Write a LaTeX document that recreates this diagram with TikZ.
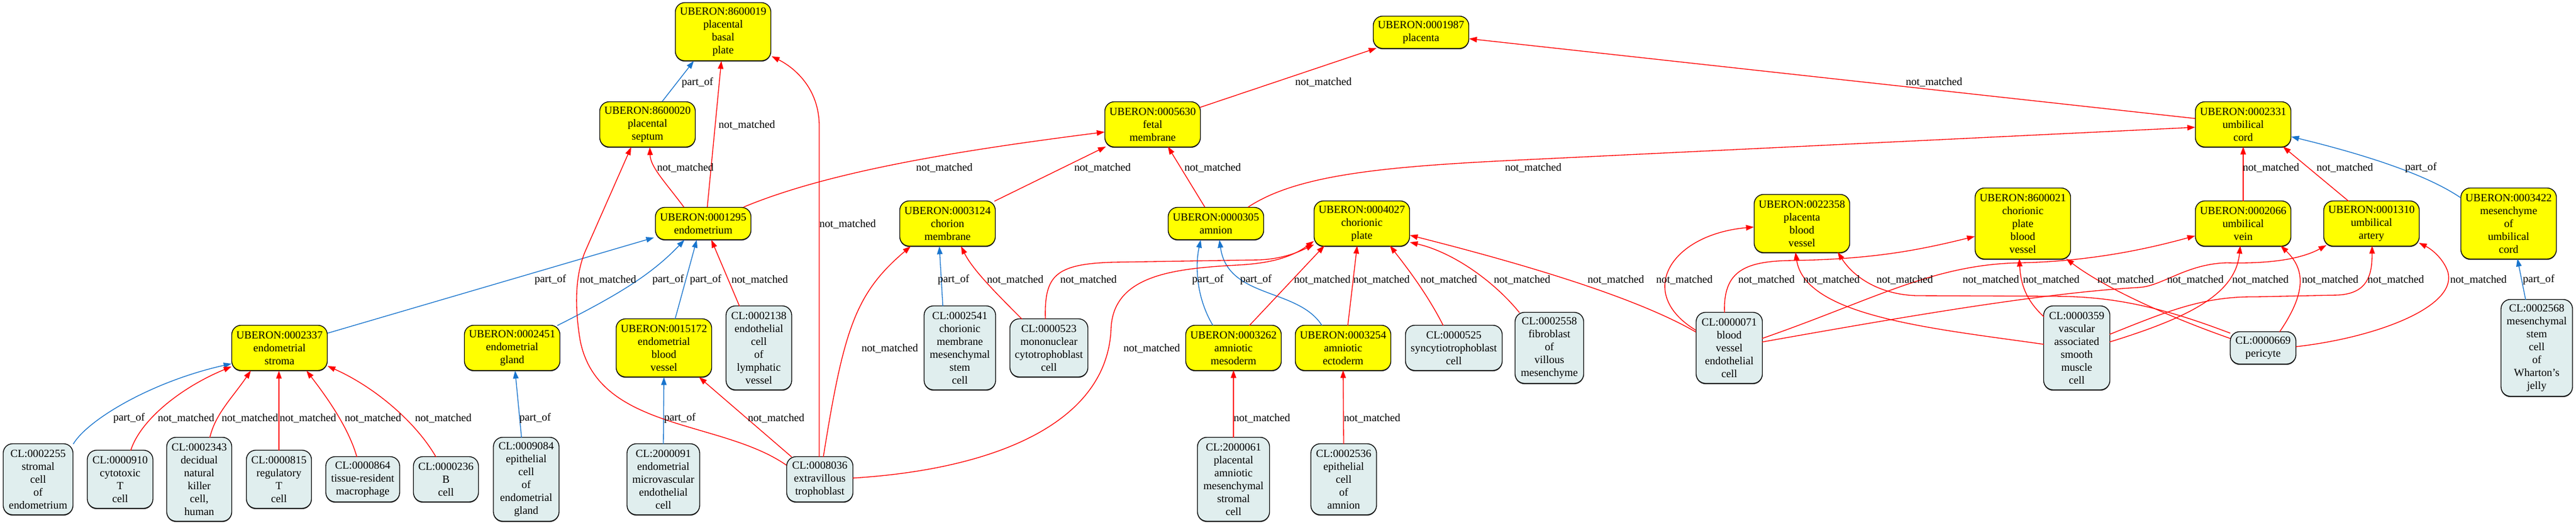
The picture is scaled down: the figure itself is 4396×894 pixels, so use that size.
\documentclass[tikz,border=0pt]{standalone}
\usepackage{fontspec}
\setmainfont{Liberation Serif}
\usetikzlibrary{calc,arrows.meta,shadows}
\definecolor{ured}{RGB}{255,0,0}
\definecolor{ublue}{RGB}{24,116,205}
\definecolor{uyel}{RGB}{255,255,0}
\definecolor{ucl}{RGB}{224,238,238}
\tikzset{
 base/.style={draw=black, line width=1pt, rounded corners=12pt, align=center, inner sep=0pt,
   font=\fontsize{14pt}{16.5pt}\selectfont, general shadow={fill=black!65, shadow yshift=-1.2pt}},
 unode/.style={base, fill=uyel, minimum width=122.25pt},
 cnode/.style={base, fill=ucl},
 htwo/.style={minimum height=41.25pt},
 hthree/.style={minimum height=57.75pt},
 hfour/.style={minimum height=74.25pt},
 hfive/.style={minimum height=90.75pt},
 hsix/.style={minimum height=107.25pt},
 hseven/.style={minimum height=123.75pt},
 redge/.style={draw=ured, line width=1pt, -{Triangle[length=10pt,width=7pt]}},
 bedge/.style={draw=ublue, line width=1pt, -{Triangle[length=10pt,width=7pt]}},
 lbl/.style={anchor=west, inner sep=0pt, font=\fontsize{14pt}{16.5pt}\selectfont}
}
\begin{document}
\begin{tikzpicture}[x=0.75pt,y=-0.75pt]
\useasboundingbox (0,0) rectangle (4396,894);
% ---------- UBERON nodes ----------
\node[unode, hfour] (u8600019) at (1234,54) {UBERON:8600019\\placental\\basal\\plate};
\node[unode, hthree] (u8600020) at (1105,212) {UBERON:8600020\\placental\\septum};
\node[unode, htwo] (u1295) at (1200,381) {UBERON:0001295\\endometrium};
\node[unode, hthree] (u3124) at (1617,381) {UBERON:0003124\\chorion\\membrane};
\node[unode, hthree] (u5630) at (1967,212) {UBERON:0005630\\fetal\\membrane};
\node[unode, htwo] (u0305) at (2075,381) {UBERON:0000305\\amnion};
\node[unode, htwo] (u1987) at (2425,55) {UBERON:0001987\\placenta};
\node[unode, hthree] (u4027) at (2324,381) {UBERON:0004027\\chorionic\\plate};
\node[unode, hfour] (u2358) at (3075,381) {UBERON:0022358\\placenta\\blood\\vessel};
\node[unode, hfive] (u8600021) at (3452,381) {UBERON:8600021\\chorionic\\plate\\blood\\vessel};
\node[unode, hthree] (u2331) at (3828,212) {UBERON:0002331\\umbilical\\cord};
\node[unode, hthree] (u2066) at (3828,381) {UBERON:0002066\\umbilical\\vein};
\node[unode, hthree] (u1310) at (4047,381) {UBERON:0001310\\umbilical\\artery};
\node[unode, hfive] (u3422) at (4281,381) {UBERON:0003422\\mesenchyme\\of\\umbilical\\cord};
\node[unode, hthree] (u2337) at (477,593) {UBERON:0002337\\endometrial\\stroma};
\node[unode, hthree] (u2451) at (874,593) {UBERON:0002451\\endometrial\\gland};
\node[unode, hfour] (u15172) at (1133,593) {UBERON:0015172\\endometrial\\blood\\vessel};
\node[unode, hthree] (u3262) at (2105,593) {UBERON:0003262\\amniotic\\mesoderm};
\node[unode, hthree] (u3254) at (2292,593) {UBERON:0003254\\amniotic\\ectoderm};
% ---------- CL nodes ----------
\node[cnode, hsix, minimum width=84pt] (c2138) at (1295,593) {CL:0002138\\endothelial\\cell\\of\\lymphatic\\vessel};
\node[cnode, hsix, minimum width=91.5pt] (c2541) at (1638,593) {CL:0002541\\chorionic\\membrane\\mesenchymal\\stem\\cell};
\node[cnode, hfour, minimum width=99.75pt] (c0523) at (1790,593) {CL:0000523\\mononuclear\\cytotrophoblast\\cell};
\node[cnode, hthree, minimum width=123.75pt] (c0525) at (2481,593) {CL:0000525\\syncytiotrophoblast\\cell};
\node[cnode, hfive, minimum width=87.75pt] (c2558) at (2644,593) {CL:0002558\\fibroblast\\of\\villous\\mesenchyme};
\node[cnode, hfive, minimum width=84.75pt] (c0071) at (2951,593) {CL:0000071\\blood\\vessel\\endothelial\\cell};
\node[cnode, hsix, minimum width=84.75pt] (c0359) at (3544,593) {CL:0000359\\vascular\\associated\\smooth\\muscle\\cell};
\node[cnode, htwo, minimum width=84pt] (c0669) at (3862,593) {CL:0000669\\pericyte};
\node[cnode, hseven, minimum width=91.5pt] (c2568) at (4329,593) {CL:0002568\\mesenchymal\\stem\\cell\\of\\Wharton's\\jelly};
\node[cnode, hfive, minimum width=89.25pt] (c2255) at (65,817) {CL:0002255\\stromal\\cell\\of\\endometrium};
\node[cnode, hfour, minimum width=84pt] (c0910) at (205,817) {CL:0000910\\cytotoxic\\T\\cell};
\node[cnode, hsix, minimum width=83.25pt] (c2343) at (340,817) {CL:0002343\\decidual\\natural\\killer\\cell,\\human};
\node[cnode, hfour, minimum width=83.25pt] (c0815) at (476,817) {CL:0000815\\regulatory\\T\\cell};
\node[cnode, hthree, minimum width=94.5pt] (c0864) at (619,817) {CL:0000864\\tissue-resident\\macrophage};
\node[cnode, hthree, minimum width=83.25pt] (c0236) at (761,817) {CL:0000236\\B\\cell};
\node[cnode, hsix, minimum width=84pt] (c9084) at (898,817) {CL:0009084\\epithelial\\cell\\of\\endometrial\\gland};
\node[cnode, hfive, minimum width=93pt] (c2000091) at (1132,817) {CL:2000091\\endometrial\\microvascular\\endothelial\\cell};
\node[cnode, hthree, minimum width=84.75pt] (c8036) at (1399,817) {CL:0008036\\extravillous\\trophoblast};
\node[cnode, hsix, minimum width=92.25pt] (c2000061) at (2105,817) {CL:2000061\\placental\\amniotic\\mesenchymal\\stromal\\cell};
\node[cnode, hfive, minimum width=84pt] (c2536) at (2293,817) {CL:0002536\\epithelial\\cell\\of\\amnion};
% ---------- part_of edges ----------
\draw[bedge] ($(u8600020)+(25,-39)$) -- ($(u8600019)+(-50,50)$);
\draw[bedge] ($(u2337)+(82,-25)$) -- ($(u1295)+(-84,24)$);
\draw[bedge] ($(u2451)+(77,-38)$) .. controls (1050,505) and (1110,470) .. ($(u1295)+(-32,28)$);
\draw[bedge] ($(u15172)+(19,-49)$) -- ($(u1295)+(-11,28)$);
\draw[bedge] ($(c2255)+(60,-60)$) .. controls (150,715) and (260,650) .. ($(u2337)+(-82,27)$);
\draw[bedge] ($(c9084)+(-8,-71)$) -- ($(u2451)+(5,39)$);
\draw[bedge] ($(c2000091)+(0,-60)$) -- ($(u15172)+(0,50)$);
\draw[bedge] ($(c2541)+(-29,-71)$) -- ($(u3124)+(-14,39)$);
\draw[bedge] ($(u3262)+(-35,-38)$) .. controls (2040,505) and (2040,450) .. ($(u0305)+(-26,28)$);
\draw[bedge] ($(u3254)+(-36,-38)$) .. controls (2215,490) and (2095,510) .. ($(u0305)+(6,28)$);
\draw[bedge] ($(u3422)+(-82,-44)$) .. controls (4130,290) and (4000,255) .. ($(u2331)+(82,21)$);
\draw[bedge] ($(c2568)+(-19,-82)$) -- ($(u3422)+(15,60)$);
% ---------- not_matched edges ----------
\draw[redge] ($(u1295)+(-33,-28)$) .. controls (1135,310) and (1110,285) .. ($(u8600020)+(4,39)$);
\draw[redge] ($(u1295)+(7,-28)$) -- ($(u8600019)+(-3,50)$);
\draw[redge] ($(c8036)+(-1,-38)$) -- (1398,215) .. controls (1398,150) and (1355,115) .. ($(u8600019)+(83,42)$);
\draw[redge] ($(c8036)+(-57,-24)$) .. controls (1230,715) and (1020,735) .. (990,580) .. controls (980,520) and (982,470) .. (998,430) -- ($(u8600020)+(-28,39)$);
\draw[redge] ($(u1295)+(69,-28)$) .. controls (1420,290) and (1650,255) .. ($(u5630)+(-82,13)$);
\draw[redge] ($(u3124)+(80,-38)$) -- ($(u5630)+(-80,38)$);
\draw[redge] ($(u0305)+(-19,-28)$) -- ($(u5630)+(26,38)$);
\draw[redge] ($(u5630)+(81,-29)$) -- ($(u1987)+(-76,27)$);
\draw[redge] ($(u2331)+(-82,-10)$) -- ($(u1987)+(82,11)$);
\draw[redge] ($(u0305)+(55,-28)$) .. controls (2210,300) and (2350,285) .. (2568,274) -- ($(u2331)+(-82,5)$);
\draw[redge] ($(u2066)+(0,-38)$) -- ($(u2331)+(0,38)$);
\draw[redge] ($(u1310)+(-39,-38)$) -- ($(u2331)+(68,38)$);
\draw[redge] ($(c2138)+(-33,-71)$) -- ($(u1295)+(14,28)$);
\draw[redge] ($(c0910)+(18,-49)$) .. controls (240,715) and (310,660) .. ($(u2337)+(-82,32)$);
\draw[redge] ($(c2343)+(18,-71)$) .. controls (368,705) and (395,680) .. ($(u2337)+(-49,39)$);
\draw[redge] ($(c0815)+(0,-49)$) -- ($(u2337)+(-1,39)$);
\draw[redge] ($(c0864)+(-10,-38)$) .. controls (595,730) and (560,680) .. ($(u2337)+(46,39)$);
\draw[redge] ($(c0236)+(-17,-38)$) .. controls (710,720) and (640,660) .. ($(u2337)+(82,31)$);
\draw[redge] ($(c8036)+(-48,-38)$) -- ($(u15172)+(60,50)$);
\draw[redge] ($(c8036)+(6,-38)$) .. controls (1440,560) and (1460,500) .. ($(u3124)+(-63,39)$);
\draw[redge] ($(c0523)+(-46,-49)$) .. controls (1700,500) and (1660,460) .. ($(u3124)+(23,39)$);
\draw[redge] ($(c0523)+(-6,-49)$) .. controls (1782,470) and (1800,450) .. (1900,447) -- (2150,443) .. controls (2190,441) and (2215,430) .. ($(u4027)+(-82,36)$);
\draw[redge] ($(c8036)+(56,-2)$) .. controls (1700,800) and (1890,720) .. (1896,560) .. controls (1900,470) and (2000,458) .. (2110,452) .. controls (2170,449) and (2205,438) .. ($(u4027)+(-82,30)$);
\draw[redge] ($(u3262)+(27,-38)$) -- ($(u4027)+(-64,38)$);
\draw[redge] ($(u3254)+(8,-38)$) -- ($(u4027)+(-8,38)$);
\draw[redge] ($(c0525)+(-18,-38)$) .. controls (2435,500) and (2400,455) .. ($(u4027)+(48,38)$);
\draw[redge] ($(c2558)+(-51,-60)$) .. controls (2550,480) and (2480,430) .. ($(u4027)+(82,32)$);
\draw[redge] ($(c0071)+(-57,-27)$) .. controls (2780,500) and (2560,440) .. ($(u4027)+(82,20)$);
\draw[redge] ($(c0071)+(-57,-30)$) .. controls (2790,500) and (2850,400) .. ($(u2358)+(-82,6)$);
\draw[redge] ($(c0071)+(-8,-60)$) .. controls (2940,460) and (2980,445) .. (3060,444) .. controls (3200,442) and (3280,425) .. ($(u8600021)+(-82,22)$);
\draw[redge] ($(c0071)+(56,-16)$) .. controls (3200,510) and (3300,450) .. (3450,448) .. controls (3580,445) and (3680,420) .. ($(u2066)+(-82,21)$);
\draw[redge] ($(c0071)+(56,-10)$) .. controls (3250,540) and (3480,500) .. (3650,490) .. controls (3690,488) and (3730,450) .. (3800,448) .. controls (3880,450) and (3930,440) .. ($(u1310)+(-77,37)$);
\draw[redge] ($(c0359)+(-56,-6)$) .. controls (3300,560) and (3080,540) .. ($(u2358)+(-11,49)$);
\draw[redge] ($(c0669)+(-56,-25)$) .. controls (3680,520) and (3600,505) .. (3500,505) -- (3270,504) .. controls (3210,502) and (3165,475) .. ($(u2358)+(61,49)$);
\draw[redge] ($(c0359)+(-56,-53)$) .. controls (3455,510) and (3448,480) .. ($(u8600021)+(-6,60)$);
\draw[redge] ($(c0669)+(-56,-16)$) .. controls (3700,540) and (3590,490) .. ($(u8600021)+(74,60)$);
\draw[redge] ($(c0359)+(56,-10)$) .. controls (3740,540) and (3815,500) .. ($(u2066)+(-5,38)$);
\draw[redge] ($(c0359)+(56,-23)$) .. controls (3700,530) and (3760,505) .. (3850,506) -- (3990,503) .. controls (4040,500) and (4048,470) .. ($(u1310)+(1,38)$);
\draw[redge] ($(c0669)+(28,-27)$) .. controls (3935,500) and (3935,460) .. ($(u2066)+(64,38)$);
\draw[redge] ($(c0669)+(56,-2)$) .. controls (4060,575) and (4200,520) .. (4176,460) .. controls (4168,440) and (4150,425) .. ($(u1310)+(81,33)$);
\draw[redge] ($(c2000061)+(0,-71)$) -- ($(u3262)+(0,38)$);
\draw[redge] ($(c2536)+(0,-60)$) -- ($(u3254)+(0,38)$);
% ---------- labels ----------
\node[lbl] (l01) at (1163,141) {part\_of};
\node[lbl] (l02) at (912,477) {part\_of};
\node[lbl] (l03) at (1113,477) {part\_of};
\node[lbl] (l04) at (1177,477) {part\_of};
\node[lbl] (l05) at (193,713) {part\_of};
\node[lbl] (l06) at (886,713) {part\_of};
\node[lbl] (l07) at (1133,713) {part\_of};
\node[lbl] (l08) at (1600,477) {part\_of};
\node[lbl] (l09) at (2034,477) {part\_of};
\node[lbl] (l10) at (2116,477) {part\_of};
\node[lbl] (l11) at (4104,286) {part\_of};
\node[lbl] (l12) at (4305,477) {part\_of};
\node[lbl] (l13) at (1121,286) {not\_matched};
\node[lbl] (l14) at (1226,213) {not\_matched};
\node[lbl] (l15) at (1398,382) {not\_matched};
\node[lbl] (l16) at (989,477) {not\_matched};
\node[lbl] (l17) at (1563,286) {not\_matched};
\node[lbl] (l18) at (1833,286) {not\_matched};
\node[lbl] (l19) at (2021,286) {not\_matched};
\node[lbl] (l20) at (2210,140) {not\_matched};
\node[lbl] (l21) at (3252,140) {not\_matched};
\node[lbl] (l22) at (2568,286) {not\_matched};
\node[lbl] (l23) at (3827,286) {not\_matched};
\node[lbl] (l24) at (3953,286) {not\_matched};
\node[lbl] (l25) at (1248,477) {not\_matched};
\node[lbl] (l26) at (269,713) {not\_matched};
\node[lbl] (l27) at (378,713) {not\_matched};
\node[lbl] (l28) at (477,713) {not\_matched};
\node[lbl] (l29) at (588,713) {not\_matched};
\node[lbl] (l30) at (708,713) {not\_matched};
\node[lbl] (l31) at (1276,713) {not\_matched};
\node[lbl] (l32) at (1470,594) {not\_matched};
\node[lbl] (l33) at (1684,477) {not\_matched};
\node[lbl] (l34) at (1809,477) {not\_matched};
\node[lbl] (l35) at (1917,594) {not\_matched};
\node[lbl] (l36) at (2208,477) {not\_matched};
\node[lbl] (l37) at (2309,477) {not\_matched};
\node[lbl] (l38) at (2424,477) {not\_matched};
\node[lbl] (l39) at (2549,477) {not\_matched};
\node[lbl] (l40) at (2709,477) {not\_matched};
\node[lbl] (l41) at (2826,477) {not\_matched};
\node[lbl] (l42) at (2966,477) {not\_matched};
\node[lbl] (l43) at (3349,477) {not\_matched};
\node[lbl] (l44) at (3698,477) {not\_matched};
\node[lbl] (l45) at (3077,477) {not\_matched};
\node[lbl] (l46) at (3202,477) {not\_matched};
\node[lbl] (l47) at (3452,477) {not\_matched};
\node[lbl] (l48) at (3579,477) {not\_matched};
\node[lbl] (l49) at (3809,477) {not\_matched};
\node[lbl] (l50) at (4040,477) {not\_matched};
\node[lbl] (l51) at (3928,477) {not\_matched};
\node[lbl] (l52) at (4181,477) {not\_matched};
\node[lbl] (l53) at (2105,713) {not\_matched};
\node[lbl] (l54) at (2293,713) {not\_matched};
\end{tikzpicture}
\end{document}
